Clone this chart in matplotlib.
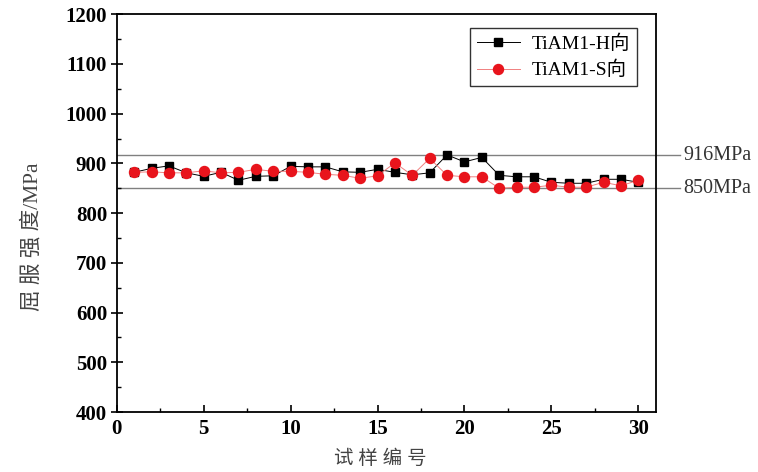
import matplotlib
matplotlib.use("Agg")
import matplotlib.pyplot as plt
from matplotlib.ticker import MultipleLocator

sample_no = list(range(1, 31))
h_values = [882, 890, 895, 881, 874, 882, 866, 874, 875, 894,
            893, 893, 883, 882, 888, 882, 877, 881, 917, 903,
            912, 876, 873, 873, 862, 860, 860, 868, 868, 862]
s_values = [882, 883, 881, 881, 885, 881, 882, 888, 884, 884,
            882, 878, 876, 870, 875, 901, 876, 910, 876, 873,
            873, 850, 852, 852, 856, 852, 852, 862, 855, 866]
ref_lines = [916, 850]
ref_labels = ["916MPa", "850MPa"]
label_h = "TiAM1-H向"
label_s = "TiAM1-S向"
xlabel = "试 样 编 号"
ylabel = "屈 服 强 度/MPa"

fam = ["Liberation Serif", "Noto Sans CJK SC"]
plt.rcParams['font.family'] = fam

fig = plt.figure(figsize=(7.58, 4.72), dpi=100)
ax = fig.add_axes([0.154, 0.127, 0.711, 0.843])

for v, t in zip(ref_lines, ref_labels):
    ax.axhline(v, xmin=0, xmax=1.045, color="#808080", lw=1.0, clip_on=False, zorder=1)
    ax.text(1.052, v, t, transform=ax.get_yaxis_transform(), va="center", ha="left",
            fontsize=14.5, color="#333333")

ax.plot(sample_no, h_values, color="black", lw=0.7, marker="s", ms=5.5,
        mfc="black", mec="black", label=label_h, zorder=3)
ax.plot(sample_no, s_values, color="#f08080", lw=0.7, marker="o", ms=7.2,
        mfc="#e8141c", mec="#e8141c", label=label_s, zorder=4)

ax.set_xlim(0, 31)
ax.set_ylim(400, 1200)
ax.xaxis.set_major_locator(MultipleLocator(5))
ax.xaxis.set_minor_locator(MultipleLocator(2.5))
ax.yaxis.set_major_locator(MultipleLocator(100))
ax.yaxis.set_minor_locator(MultipleLocator(50))
ax.tick_params(axis="x", which="major", direction="in", length=5, width=1.2, pad=5)
ax.tick_params(axis="x", which="minor", direction="in", length=3, width=1.0)
ax.tick_params(axis="y", which="major", direction="inout", length=8, width=1.2, pad=3)
ax.tick_params(axis="y", which="minor", direction="in", length=3, width=1.0)
for lab in ax.get_xticklabels() + ax.get_yticklabels():
    lab.set_fontweight("bold")
    lab.set_fontsize(15)
for s in ax.spines.values():
    s.set_linewidth(1.3)

ax.set_xlabel(xlabel, fontsize=14, color="#444444", labelpad=2)
ax.xaxis.set_label_coords(0.49, -0.095)
ax.set_ylabel(ylabel, fontsize=15.5, color="#444444")
ax.yaxis.set_label_coords(-0.138, 0.44)

leg = ax.legend(loc="upper right", bbox_to_anchor=(0.965, 0.965), borderaxespad=0,
                fontsize=14, frameon=True, fancybox=False, edgecolor="black",
                handlelength=2.2, borderpad=0.35, labelspacing=0.4, handletextpad=0.6)
leg.get_frame().set_linewidth(1.0)

fig.savefig("out.png", dpi=100)
